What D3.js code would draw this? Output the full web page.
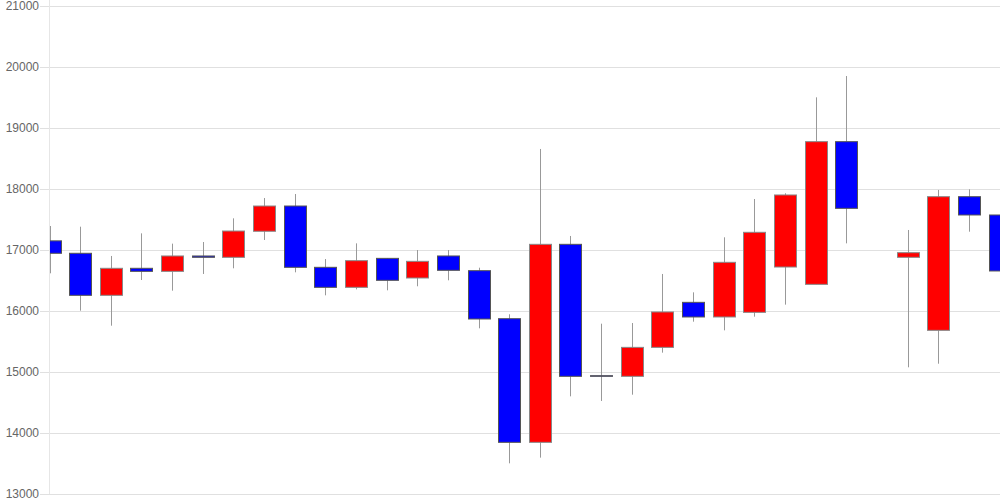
<!DOCTYPE html>
<html>
<head>
<meta charset="utf-8">
<script src="https://cdn.jsdelivr.net/npm/d3@7/dist/d3.min.js"></script>
<style>
  html, body { margin: 0; padding: 0; background: #fff; }
  svg { display: block; }
  .tick text { font-family: "Liberation Sans", Arial, sans-serif; font-size: 12px; fill: #666; }
</style>
</head>
<body>
<svg id="chart" width="1000" height="500"></svg>
<script>
// Session categories (index order, one per trading slot; null = no trading)
const categories = d3.range(32).map(i => "D" + (i + 1));
const openVals  = [17150,16946,16257,16700,16650,16902,16880,17307,17721,16716,16388,16863,16541,16902,16661,15874,13847,17093,14940,14929,15404,16142,15902,15978,16721,16437,18776,null,16880,15683,17874,17574];
const closeVals = [16946,16257,16700,16650,16902,16880,17311,17721,16716,16388,16825,16503,16814,16667,15869,13847,17093,14929,14929,15404,15984,15902,16798,17290,17902,18776,17683,null,16956,17874,17574,16656];
const highVals  = [17393,17382,16902,17273,17104,17131,17519,17852,17918,16852,17109,16863,17000,17000,16710,15946,18656,17230,15792,15803,16607,16306,17208,17836,17930,19503,19852,null,17328,17984,17995,17852];
const lowVals   = [16618,16005,15759,16508,16333,16607,16700,17164,16634,16257,16355,16339,16405,16503,15716,13503,13596,14601,14525,14628,15317,15825,15683,15907,16104,16437,17109,null,15077,15136,17300,16126];
const yTicks = [13000,14000,15000,16000,17000,18000,19000,20000,21000];

const W = 1000, H = 500;
const plot = { left: 50, right: 1000, top: 6, bottom: 494 };

const svg = d3.select("#chart");

const x = d3.scalePoint().domain(categories).range([49.5, 999.5]).padding(0);
const y = d3.scaleLinear().domain([13000, 21000]).range([plot.bottom, plot.top]);

// grid + axis
const yAxis = d3.axisLeft(y).tickValues(yTicks).tickSize(10).tickPadding(1).tickFormat(d3.format("d"));
const ga = svg.append("g").attr("transform", `translate(${plot.left},0)`).call(yAxis);
ga.select(".domain").remove();
ga.selectAll(".tick line").attr("stroke", "#e0e0e0").attr("x2", plot.right - plot.left).attr("x1", -10);

svg.append("line")
  .attr("x1", 49.5).attr("x2", 49.5).attr("y1", 0).attr("y2", plot.bottom)
  .attr("stroke", "#e6e6e6");

svg.append("defs").append("clipPath").attr("id", "clip")
  .append("rect").attr("x", plot.left).attr("y", 0).attr("width", plot.right - plot.left).attr("height", H);

const data = categories.map((c, i) => ({
  c, o: openVals[i], cl: closeVals[i], h: highVals[i], l: lowVals[i]
})).filter(d => d.o != null);

const bw = 22;
const g = svg.append("g").attr("clip-path", "url(#clip)");

g.selectAll("line.wick").data(data).join("line")
  .attr("class", "wick")
  .attr("x1", d => Math.round(x(d.c)) + 0.5).attr("x2", d => Math.round(x(d.c)) + 0.5)
  .attr("y1", d => y(d.h)).attr("y2", d => y(d.l))
  .attr("stroke", "#999").attr("stroke-width", 1);

g.selectAll("rect.body").data(data).join("rect")
  .attr("class", "body")
  .attr("x", d => Math.round(x(d.c) - bw / 2) + 0.5)
  .attr("width", bw)
  .attr("y", d => y(Math.max(d.o, d.cl)))
  .attr("height", d => Math.max(0.5, Math.abs(y(d.o) - y(d.cl))))
  .attr("fill", d => d.cl >= d.o ? "#ff0000" : "#0000ff")
  .attr("stroke", d => d.cl >= d.o ? "#888" : "#555")
  .attr("stroke-width", 1);
</script>
</body>
</html>
